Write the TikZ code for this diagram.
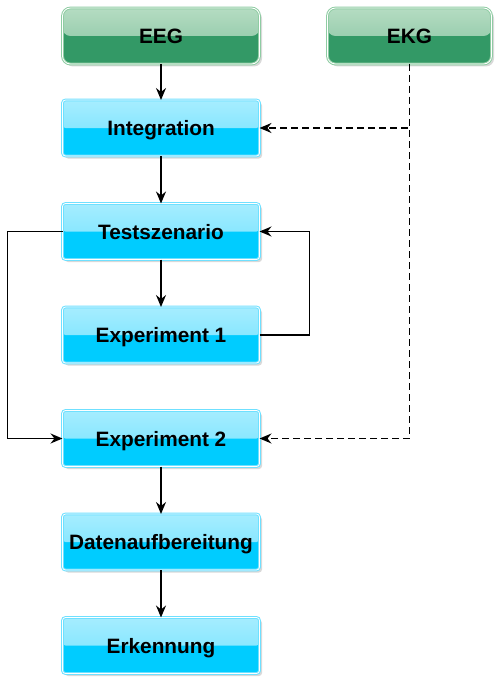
\documentclass[tikz,border=0pt]{standalone}
\usepackage{fontspec}
\setmainfont{Liberation Sans}
\usepackage{xcolor}
\usepackage{tikz}
\usetikzlibrary{arrows.meta,positioning,shadows}
\definecolor{ink}{HTML}{000000}
\definecolor{leafdark}{HTML}{339966}
\definecolor{leaflight}{HTML}{B5DCC2}
\definecolor{leafedge}{HTML}{8FCCA3}
\definecolor{skydark}{HTML}{00CCFF}
\definecolor{skylight}{HTML}{A6EDFF}
\definecolor{skyedge}{HTML}{6FE0FF}
\tikzset{
  glossbox/.style={
    rectangle,
    line width=1pt,
    double=white,
    double distance=0.8pt,
    outer sep=0pt,
    minimum height=56pt,
    text height=15pt,
    text depth=0pt,
    align=center,
    text=ink,
    font=\bfseries\fontsize{20.8}{24}\selectfont,
    drop shadow={opacity=0.3, shadow xshift=2.5pt, shadow yshift=-2.5pt}
  },
  sourcebox/.style={
    glossbox,
    rounded corners=8pt,
    draw=leafedge,
    fill=leafdark,
    path picture={\shade[top color=leaflight, bottom color=leaflight!60!leafdark]
      (path picture bounding box.north west) rectangle (path picture bounding box.east);}
  },
  stagebox/.style={
    glossbox,
    rounded corners=3pt,
    minimum width=197pt,
    draw=skyedge,
    fill=skydark,
    path picture={\shade[top color=skylight, bottom color=skylight!65!skydark]
      (path picture bounding box.north west) rectangle (path picture bounding box.east);}
  },
  flowarrow/.style={-{Stealth[length=12pt, width=10pt, inset=4pt]}, line width=1.4pt, draw=ink},
  signalarrow/.style={flowarrow, dash pattern=on 7pt off 4pt}
}

\begin{document}
\begin{tikzpicture}[x=1pt, y=1pt, node distance=47.5pt]
  \path[use as bounding box] (0,0) rectangle (500,-682);

  \node[sourcebox, minimum width=197pt] (eeg) at (161,-36) {EEG};
  \node[sourcebox, minimum width=164pt, right=68pt of eeg] (ekg) {EKG};

  \node[stagebox, below=36pt of eeg] (integ) {Integration};
  \node[stagebox, below=of integ] (testsz) {Testszenario};
  \node[stagebox, below=of testsz] (exp1) {Experiment 1};
  \node[stagebox, below=of exp1] (exp2) {Experiment 2};
  \node[stagebox, below=of exp2] (prep) {Datenaufbereitung};
  \node[stagebox, below=of prep] (detect) {Erkennung};

  \draw[flowarrow] (eeg) -- (integ);
  \draw[flowarrow] (integ) -- (testsz);
  \draw[flowarrow] (testsz) -- (exp1);
  \draw[flowarrow] (exp1.east) -- ++(50,0) |- (testsz.east);
  \draw[flowarrow] (testsz.west) -- ++(-55,0) |- (exp2.west);
  \draw[flowarrow] (exp2) -- (prep);
  \draw[flowarrow] (prep) -- (detect);

  \draw[signalarrow] (ekg.south) |- (integ.east);
  \draw[signalarrow] (ekg.south) |- (exp2.east);
\end{tikzpicture}
\end{document}
